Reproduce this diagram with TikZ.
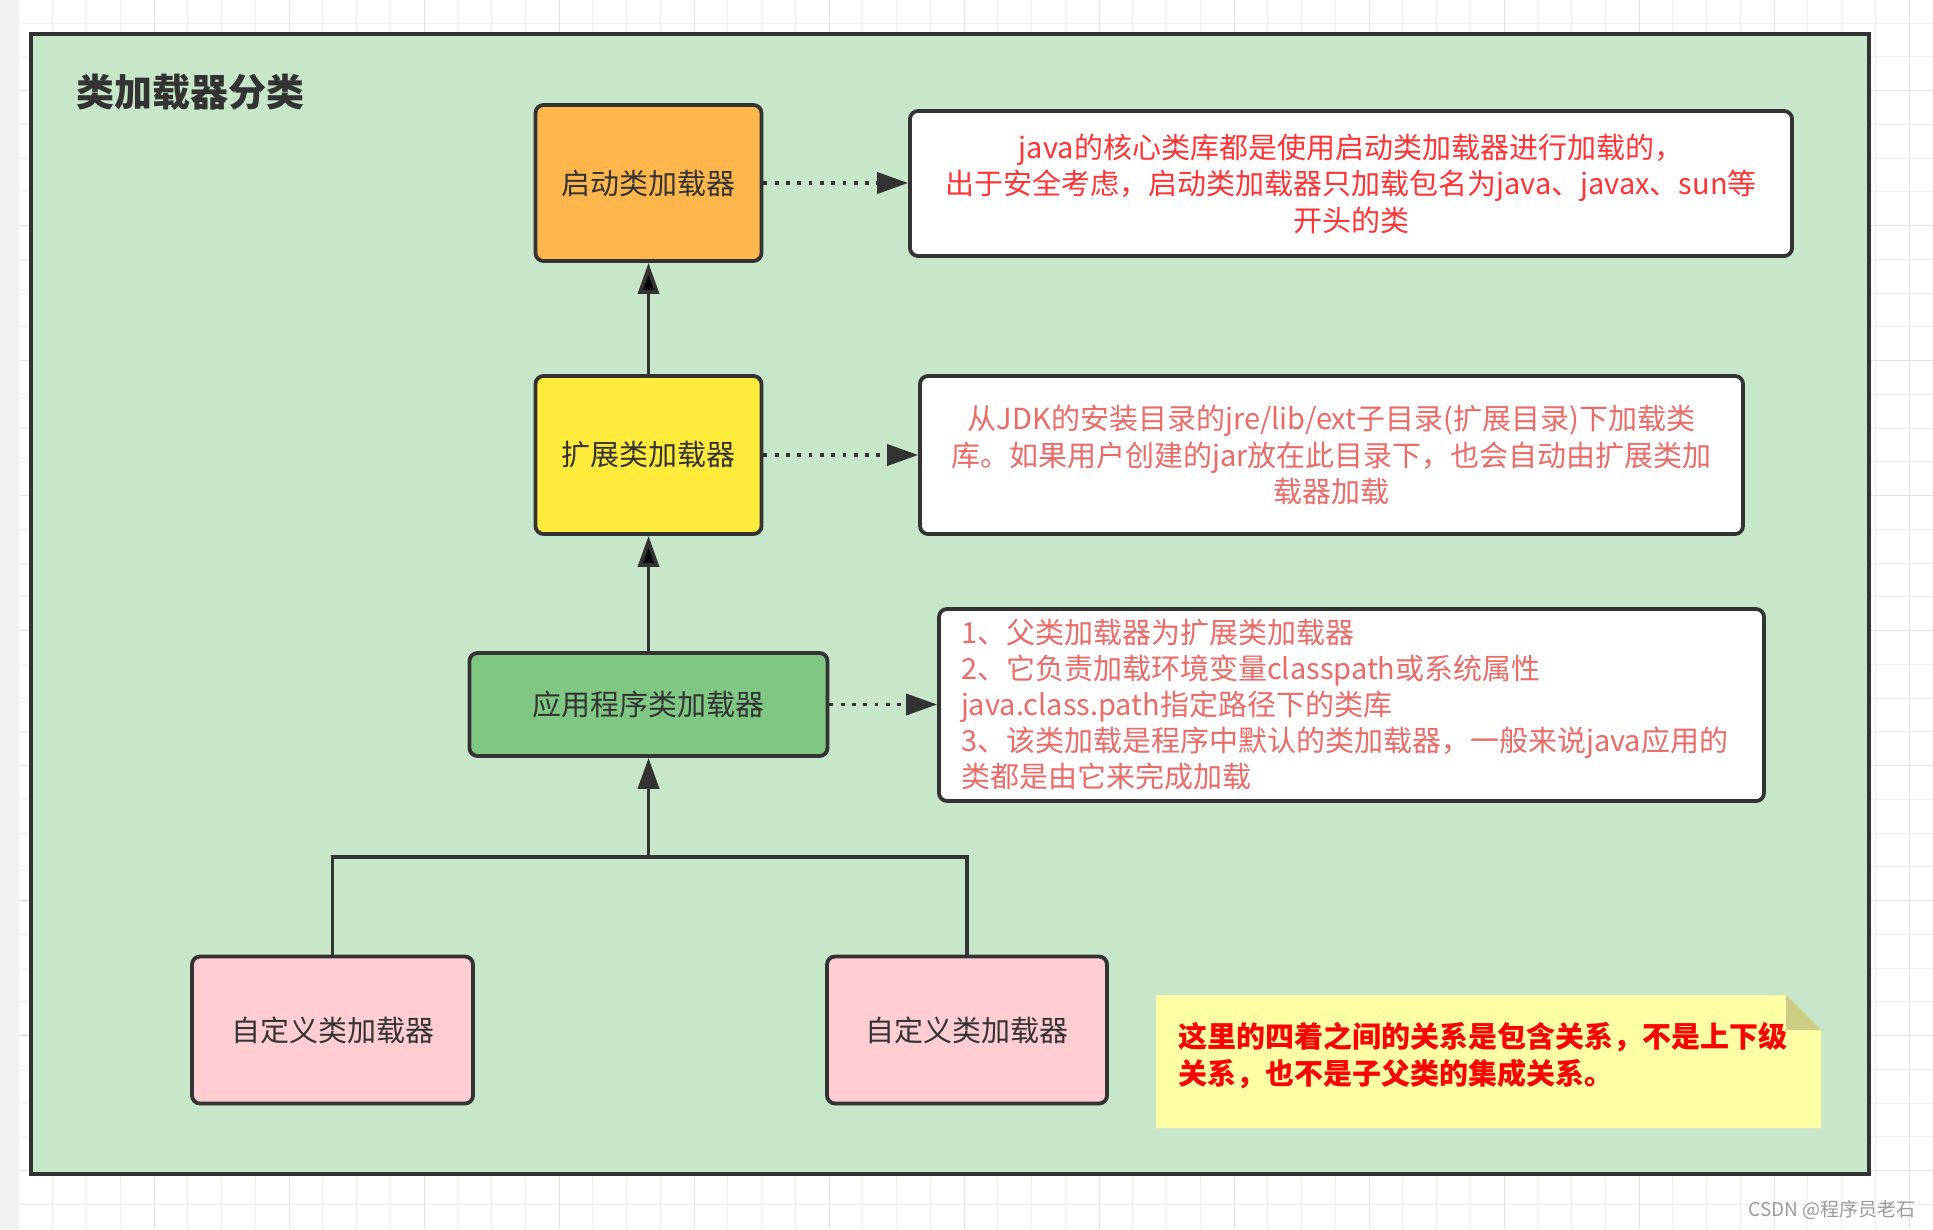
\documentclass[tikz,border=0pt]{standalone}
\usepackage{fontspec}
\setmainfont{Noto Sans CJK SC}
\usetikzlibrary{arrows.meta}

\definecolor{lineGray}{HTML}{333333}
\definecolor{bgGreen}{HTML}{C8E6C9}
\definecolor{stripGray}{HTML}{F2F2F2}
\definecolor{gridMinor}{HTML}{F0F0F0}
\definecolor{gridMajor}{HTML}{E3E3E3}
\definecolor{qiOrange}{HTML}{FFB74D}
\definecolor{kuoYellow}{HTML}{FFEB3B}
\definecolor{yingGreen}{HTML}{81C784}
\definecolor{ziPink}{HTML}{FFCDD2}
\definecolor{redA}{HTML}{FF3333}
\definecolor{redB}{HTML}{EA6B66}
\definecolor{noteFill}{HTML}{FFFFA6}
\definecolor{noteFold}{HTML}{CCCC85}
\definecolor{markGray}{HTML}{9A9A9A}

\tikzset{
  loader/.style={draw=lineGray, line width=3.8pt, rounded corners=8pt,
    text=lineGray, inner sep=0pt, font=\fontsize{29}{36.5}\selectfont},
  desc/.style={loader, fill=white, align=center},
  link/.style={draw=lineGray, line width=3.8pt},
  dep/.style={link, -{Triangle[length=31pt,width=21pt]}},
  dots/.style={dep, dash pattern=on 3.8pt off 7.5pt},
}

\begin{document}
\begin{tikzpicture}[x=1pt, y=-1pt]
  \useasboundingbox (0,0) rectangle (1933,1229);
  % background grid
  \foreach \gx in {52.75,86.5,...,1933} \draw[gridMinor, line width=1pt] (\gx,0) -- (\gx,1229);
  \foreach \gy in {23,56.75,...,1229} \draw[gridMinor, line width=1pt] (19,\gy) -- (1933,\gy);
  \foreach \gx in {154,289,...,1933} \draw[gridMajor, line width=1pt] (\gx,0) -- (\gx,1229);
  \foreach \gy in {90.5,225.5,...,1229} \draw[gridMajor, line width=1pt] (19,\gy) -- (1933,\gy);
  \fill[stripGray] (0,0) rectangle (19,1229);
  \draw[lineGray, line width=4.2pt, fill=bgGreen] (31,34) rectangle (1869,1174);

  \node (title) [anchor=west, inner sep=0pt, text=lineGray,
    font=\fontsize{38}{44}\selectfont\bfseries] at (76,92.5) {类加载器分类};

  % loaders
  \node (qi) [loader, fill=qiOrange, minimum width=226pt, minimum height=156pt] at (648.5,183) {启动类加载器};
  \node (kuo) [loader, fill=kuoYellow, minimum width=226pt, minimum height=158pt] at (648.5,455) {扩展类加载器};
  \node (ying) [loader, fill=yingGreen, minimum width=358pt, minimum height=103pt] at (648.5,704.5) {应用程序类加载器};
  \node (zi1) [loader, fill=ziPink, minimum width=281pt, minimum height=147pt] at (332.5,1030) {自定义类加载器};
  \node (zi2) [loader, fill=ziPink, minimum width=280pt, minimum height=147pt] at (967,1030) {自定义类加载器};

  % descriptions
  \node (t1) [desc, text=redA, minimum width=882pt, minimum height=145pt] at (1351,183.5)
    {java的核心类库都是使用启动类加载器进行加载的，\\出于安全考虑，启动类加载器只加载包名为java、javax、sun等\\开头的类};
  \node (t2) [desc, text=redB, minimum width=823pt, minimum height=158pt] at (1331.5,455)
    {从JDK的安装目录的jre/lib/ext子目录(扩展目录)下加载类\\库。如果用户创建的jar放在此目录下，也会自动由扩展类加\\载器加载};
  \node (t3) [desc, text=redB, align=left, text width=781pt, minimum width=825pt, minimum height=192pt,
    font=\fontsize{29}{36}\selectfont] at (1351.5,705)
    {1、父类加载器为扩展类加载器\\2、它负责加载环境变量classpath或系统属性\\java.class.path指定路径下的类库\\3、该类加载是程序中默认的类加载器，一般来说java应用的\\类都是由它来完成加载};

  % connectors
  \path[dep] (kuo) edge (qi);
  \path[dep] (ying) edge (kuo);
  \coordinate (jn) at (648.5,857);
  \draw[link] (zi1.north) |- (zi2.north |- jn) -- (zi2.north);
  \draw[dep] (jn) -- (ying.south);
  \draw[dots] (qi.east) -- (qi.east -| t1.west);
  \draw[dots] (kuo.east) -- (kuo.east -| t2.west);
  \draw[dots] (ying.east) -- (ying.east -| t3.west);

  % note
  \coordinate (noteNW) at (1156,995);
  \coordinate (noteSE) at (1821,1128);
  \fill[noteFill] (noteNW) -- ([xshift=-35pt]noteNW -| noteSE) -- ([yshift=-35pt]noteNW -| noteSE)
    -- (noteSE) -- (noteNW |- noteSE) -- cycle;
  \fill[noteFold] ([xshift=-35pt]noteNW -| noteSE) -- ([yshift=-35pt]noteNW -| noteSE)
    -- ([xshift=-35pt,yshift=-35pt]noteNW -| noteSE) -- cycle;
  \node (note) [inner sep=0pt, text=red, align=left, text width=620pt,
    font=\fontsize{29}{37}\selectfont\bfseries] at (1488.5,1055.5)
    {这里的四着之间的关系是包含关系，不是上下级\\关系，也不是子父类的集成关系。};

  \node (mark) [inner sep=0pt, text=markGray, font=\fontsize{19}{22}\selectfont] at (1832,1210) {CSDN @程序员老石};
\end{tikzpicture}
\end{document}
